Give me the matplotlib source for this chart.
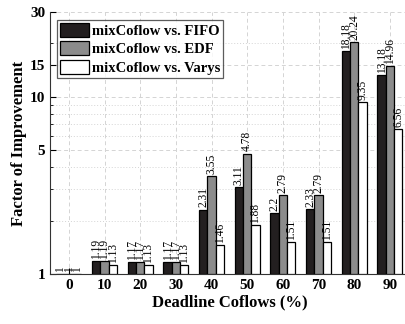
import numpy as np
import matplotlib
matplotlib.use("Agg")
import matplotlib.pyplot as plt
from matplotlib.ticker import FixedLocator, NullFormatter

plt.rcParams['font.family'] = ['Liberation Serif', 'DejaVu Serif']

deadline = ["0", "10", "20", "30", "40", "50", "60", "70", "80", "90"]
fifo = [1, 1.19, 1.17, 1.17, 2.31, 3.11, 2.2, 2.33, 18.18, 13.18]
edf = [1, 1.19, 1.17, 1.17, 3.55, 4.78, 2.79, 2.79, 20.24, 14.96]
varys = [1, 1.13, 1.13, 1.13, 1.46, 1.88, 1.51, 1.51, 9.35, 6.56]
series = ["mixCoflow vs. FIFO", "mixCoflow vs. EDF", "mixCoflow vs. Varys"]
colors = ["#231f20", "#8c8c8c", "#ffffff"]

fig = plt.figure(figsize=(4.06, 3.24), dpi=100)
ax = fig.add_axes([0.123, 0.154, 0.884, 0.809])

x = np.arange(len(deadline))
w = 0.233
for i, (vals, name, c) in enumerate(zip([fifo, edf, varys], series, colors)):
    xs = x + (i - 1) * w
    ax.bar(xs, np.array(vals) - 1, w, bottom=1, color=c, edgecolor="black",
           linewidth=0.9, label=name, zorder=3)
    for xi, v in zip(xs, vals):
        ax.annotate(f"{v:g}", (xi, v), xytext=(0, 1.5), textcoords="offset points",
                    rotation=90, ha="center", va="bottom", fontsize=8.3, zorder=4)

ax.set_yscale("log")
ax.set_ylim(1, 30)
ax.set_xlim(-0.53, 9.53)
ax.yaxis.set_major_locator(FixedLocator([1, 5, 10, 15, 30]))
ax.set_yticklabels(["1", "5", "10", "15", "30"])
ax.yaxis.set_minor_locator(FixedLocator([2, 3, 4, 6, 7, 8, 9, 20]))
ax.yaxis.set_minor_formatter(NullFormatter())
ax.set_xticks(x)
ax.set_xticklabels(deadline)

ax.tick_params(axis="both", which="major", direction="in", length=4, width=0.8,
               labelsize=11)
ax.tick_params(axis="y", which="minor", direction="in", length=2.5, width=0.6)
for lab in ax.get_xticklabels() + ax.get_yticklabels():
    lab.set_fontweight("bold")

ax.grid(True, axis="y", which="major", linestyle=(0, (4, 3)), color="#d4d4d4", linewidth=0.7, zorder=0)
ax.grid(True, axis="y", which="minor", linestyle=(0, (1, 2)), color="#d4d4d4", linewidth=0.7, zorder=0)
ax.grid(True, axis="x", which="major", linestyle=(0, (4, 3)), color="#d4d4d4", linewidth=0.7, zorder=0)

ax.spines["top"].set_visible(False)
ax.spines["right"].set_visible(False)
ax.spines["left"].set_color("#333333")
ax.spines["bottom"].set_color("#333333")

ax.set_xlabel("Deadline Coflows (%)", fontsize=12, fontweight="bold", labelpad=2)
ax.set_ylabel("Factor of Improvement", fontsize=12, fontweight="bold", labelpad=2)

leg = ax.legend(loc="upper left", bbox_to_anchor=(0.02, 0.97),
                prop={"weight": "bold", "size": 10.5}, frameon=True, fancybox=False,
                edgecolor="#333333", handlelength=2.0, handleheight=1.1,
                handletextpad=0.2, labelspacing=0.25, borderpad=0.2, borderaxespad=0)
leg.get_frame().set_linewidth(0.9)

fig.savefig("out.png", dpi=100)
